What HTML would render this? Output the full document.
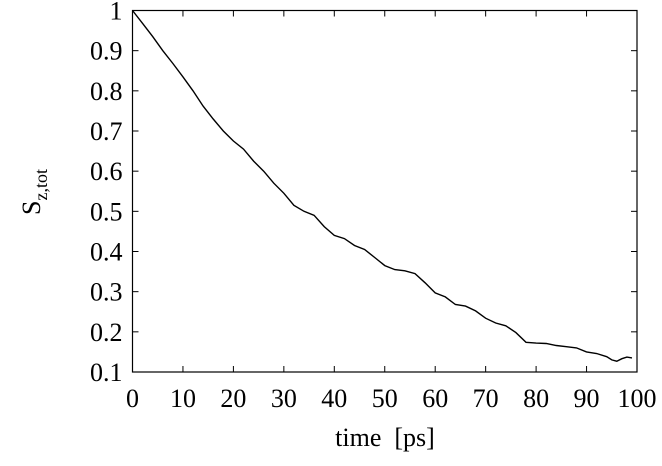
<!DOCTYPE html>
<html><head><meta charset="utf-8">
<style>
body{margin:0;background:#fff;}
svg text{font-family:"Liberation Serif",serif;fill:#000;}
</style></head>
<body>
<svg id="chart" width="662" height="461" xmlns="http://www.w3.org/2000/svg"></svg>
<script>
const xTicks=[0,10,20,30,40,50,60,70,80,90,100];
const yTicks=[0.1,0.2,0.3,0.4,0.5,0.6,0.7,0.8,0.9,1];
const yTickLabels=["0.1","0.2","0.3","0.4","0.5","0.6","0.7","0.8","0.9","1"];
const times=[0,2,4,6,8,10,12,14,16,18,20,22,24,26,28,30,32,34,36,38,40,42,44,46,48,50,52,54,56,58,60,62,64,66,68,70,72,74,76,78,80,82,84,86,88,90,92,94,95,96,97,98,99];
const sz=[1.0,0.968,0.935,0.9,0.868,0.835,0.8,0.762,0.73,0.7,0.675,0.655,0.625,0.6,0.57,0.545,0.515,0.5,0.49,0.462,0.44,0.432,0.415,0.405,0.385,0.365,0.355,0.352,0.345,0.322,0.297,0.287,0.268,0.264,0.252,0.234,0.222,0.215,0.198,0.174,0.172,0.171,0.166,0.163,0.16,0.15,0.146,0.138,0.13,0.127,0.133,0.137,0.135];
const svg=document.getElementById('chart');
const NS='http://www.w3.org/2000/svg';
const L=132.5,R=637,T=10.5,B=372;
const xs=v=>L+(v-0)/(100-0)*(R-L);
const ys=v=>B-(v-0.1)/(1-0.1)*(B-T);
function mk(tag,attrs,parent){const e=document.createElementNS(NS,tag);for(const k in attrs)e.setAttribute(k,attrs[k]);(parent||svg).appendChild(e);return e;}
const frame=mk('rect',{x:L,y:T,width:R-L,height:B-T,fill:'none',stroke:'#000','stroke-width':1.2});


xTicks.forEach(v=>{
  const x=xs(v);
  const t1=mk('line',{x1:x,x2:x,y1:B,y2:B-6,stroke:'#000'});
  
  
  const t2=mk('line',{x1:x,x2:x,y1:T,y2:T+6,stroke:'#000'});
  
  
  const lb=mk('text',{x:x,y:B+35,'text-anchor':'middle','font-size':26});
  lb.textContent=v;
  
  
});
yTicks.forEach((v,i)=>{
  const y=ys(v);
  const t1=mk('line',{x1:L,x2:L+6,y1:y,y2:y,stroke:'#000'});
  
  
  const t2=mk('line',{x1:R,x2:R-6,y1:y,y2:y,stroke:'#000'});
  
  
  const lb=mk('text',{x:L-10,y:y+9,'text-anchor':'end','font-size':26});
  lb.textContent=yTickLabels[i];
  
  
});
const d=times.map((t,i)=>(i?'L':'M')+xs(t).toFixed(1)+' '+ys(sz[i]).toFixed(1)).join(' ');
const line=mk('path',{d:d,fill:'none',stroke:'#000','stroke-width':1.4});


const xl=mk('text',{x:385,y:446,'text-anchor':'middle','font-size':26});
xl.textContent='time\u00a0\u00a0[ps]';


const yl=mk('text',{transform:'translate(40,192) rotate(-90)','text-anchor':'middle','font-size':26});
yl.innerHTML='S<tspan font-size="18" dy="7">z,tot</tspan>';


</script>
</body></html>
